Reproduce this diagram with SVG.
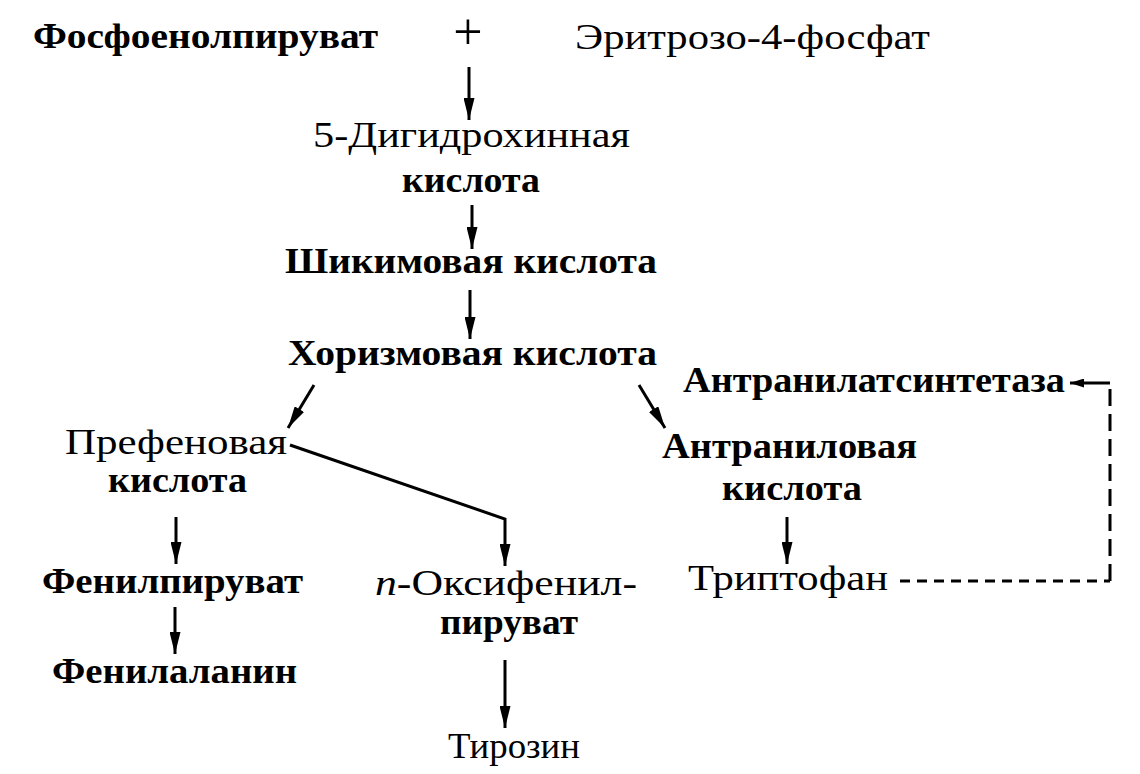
<svg xmlns="http://www.w3.org/2000/svg" width="1140" height="774" viewBox="0 0 1140 774">
<style>
text{font-family:"Liberation Serif","Times New Roman",serif;font-size:35px;fill:#000;font-weight:bold}
.n{font-weight:normal}
.c{stroke:#000;stroke-width:3;fill:none}
.d{stroke:#000;stroke-width:3;fill:none;stroke-dasharray:10 7}
.dv{stroke:#000;stroke-width:3;fill:none;stroke-dasharray:17 8}
</style>
<defs>
<marker id="ah" markerUnits="userSpaceOnUse" markerWidth="22" markerHeight="11" refX="22" refY="5.5" orient="auto">
<path d="M0,0 L22,5.5 L0,11 z" fill="#000"/>
</marker>
<marker id="ahs" markerUnits="userSpaceOnUse" markerWidth="14" markerHeight="9" refX="14" refY="4.5" orient="auto">
<path d="M0,0 L14,4.5 L0,9 z" fill="#000"/>
</marker>
</defs>
<rect width="1140" height="774" fill="#fff"/>
<g id="connectors">
<line class="c" x1="469" y1="67" x2="469" y2="120" marker-end="url(#ah)"/>
<line class="c" x1="472" y1="205" x2="472" y2="249" marker-end="url(#ah)"/>
<line class="c" x1="470" y1="290" x2="470" y2="339" marker-end="url(#ah)"/>
<line class="c" x1="314" y1="385" x2="288" y2="428" marker-end="url(#ah)"/>
<line class="c" x1="639" y1="385" x2="665" y2="428" marker-end="url(#ah)"/>
<polyline class="c" points="290,445 505,519 505,566" marker-end="url(#ah)"/>
<line class="c" x1="176" y1="517" x2="176" y2="564" marker-end="url(#ah)"/>
<line class="c" x1="175" y1="607" x2="175" y2="654" marker-end="url(#ah)"/>
<line class="c" x1="505" y1="660" x2="505" y2="728" marker-end="url(#ah)"/>
<line class="c" x1="787" y1="517" x2="787" y2="564" marker-end="url(#ah)"/>
<line class="d" x1="900" y1="581" x2="1110" y2="581"/>
<line class="dv" x1="1110" y1="581" x2="1110" y2="383"/>
<line class="c" x1="1110" y1="383" x2="1070" y2="383" marker-end="url(#ahs)"/>
</g>
<g id="n-phosphoenolpyruvate"><text x="33" y="48" textLength="345" lengthAdjust="spacingAndGlyphs">Фосфоенолпируват</text></g>
<g id="plus"><text class="n" x="468" y="49" text-anchor="middle" style="font-size:52px">+</text></g>
<g id="n-erythrose"><text class="n" x="575" y="49" textLength="355" lengthAdjust="spacingAndGlyphs">Эритрозо-4-фосфат</text></g>
<g id="n-dhq"><text class="n" x="313" y="147" textLength="317" lengthAdjust="spacingAndGlyphs">5-Дигидрохинная</text><text x="402" y="192" textLength="138" lengthAdjust="spacingAndGlyphs">кислота</text></g>
<g id="n-shikimic"><text x="285" y="273" textLength="372" lengthAdjust="spacingAndGlyphs">Шикимовая кислота</text></g>
<g id="n-chorismic"><text x="288" y="365" textLength="369" lengthAdjust="spacingAndGlyphs">Хоризмовая кислота</text></g>
<g id="n-anthranilate-synthase"><text x="683" y="392" textLength="382" lengthAdjust="spacingAndGlyphs">Антранилатсинтетаза</text></g>
<g id="n-prephenic"><text class="n" x="65" y="454" textLength="222" lengthAdjust="spacingAndGlyphs">Префеновая</text><text x="108" y="492" textLength="139" lengthAdjust="spacingAndGlyphs">кислота</text></g>
<g id="n-anthranilic"><text x="662" y="458" textLength="255" lengthAdjust="spacingAndGlyphs">Антраниловая</text><text x="722" y="500" textLength="140" lengthAdjust="spacingAndGlyphs">кислота</text></g>
<g id="n-phenylpyruvate"><text x="42" y="593" textLength="261" lengthAdjust="spacingAndGlyphs">Фенилпируват</text></g>
<g id="n-hydroxyphenylpyruvate"><text class="n" x="375" y="595" textLength="262" lengthAdjust="spacingAndGlyphs"><tspan font-style="italic">п</tspan>-Оксифенил-</text><text x="440" y="634" textLength="138" lengthAdjust="spacingAndGlyphs">пируват</text></g>
<g id="n-tryptophan"><text class="n" x="688" y="590" textLength="200" lengthAdjust="spacingAndGlyphs">Триптофан</text></g>
<g id="n-phenylalanine"><text x="52" y="683" textLength="245" lengthAdjust="spacingAndGlyphs">Фенилаланин</text></g>
<g id="n-tyrosine"><text class="n" x="448" y="758" textLength="132" lengthAdjust="spacingAndGlyphs">Тирозин</text></g>
</svg>
